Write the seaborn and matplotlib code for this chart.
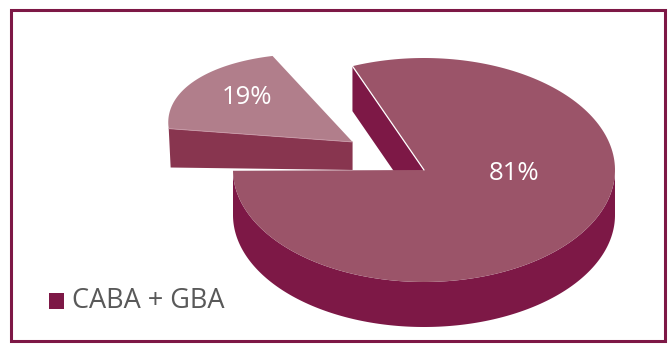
import numpy as np
import matplotlib
matplotlib.use("Agg")
import matplotlib.pyplot as plt
from matplotlib.patches import Polygon, Rectangle
import seaborn as sns

# ---- data ----
categories = ["CABA + GBA", "Resto"]
values = [81, 19]
legend_labels = ["CABA + GBA"]
top_colors = ["#9B5469", "#B17E8B"]
side_colors = ["#7D1846", "#88354F"]

sns.set_theme(style="white")
plt.rcParams['font.family'] = ['Open Sans', 'DejaVu Sans']
palette_top = sns.color_palette(top_colors)
palette_side = sns.color_palette(side_colors)

W, H = 669, 349
fig = plt.figure(figsize=(W / 100, H / 100), dpi=100)
ax = fig.add_axes([0, 0, 1, 1])
ax.set_xlim(0, W)
ax.set_ylim(H, 0)
ax.axis('off')

# frame
ax.add_patch(Rectangle((11, 10), 654, 331, fill=False, ec="#7D1846", lw=2.2))

# pie geometry (layout)
cx, cy, rx, ry, depth = 424, 170, 191, 112, 45
start = 112.0
explode = [0.0, 0.45]
M_small = np.array([[0.963, 0.107], [0.073, 0.778]])
M_small_bot = np.array([[0.953, 0.107], [0.016, 0.778]])

fracs = np.array(values, dtype=float) / sum(values)
angles = []
a = start
for f in fracs:
    angles.append((a - f * 360.0, a))
    a -= f * 360.0


def arc(t0, t1, n=200):
    t = np.radians(np.linspace(t0, t1, n))
    return np.column_stack([rx * np.cos(t), -ry * np.sin(t)])


# --- small (exploded) slice, drawn first (behind) ---
t0, t1 = angles[1]
mid = np.radians((t0 + t1) / 2)
V = np.array([cx + explode[1] * rx * np.cos(mid), cy - explode[1] * ry * np.sin(mid)])
edge_pt = np.array([rx * np.cos(np.radians(t1)), -ry * np.sin(np.radians(t1))])
L_top = V + M_small @ edge_pt
Vb = V + np.array([0, 28])
L_bot = Vb + M_small_bot @ edge_pt
ax.add_patch(Polygon([V, L_top, L_bot, Vb], closed=True, fc=palette_side[1], ec='none'))
pts = (M_small @ arc(t0, t1).T).T + V
ax.add_patch(Polygon(np.vstack([V, pts]), closed=True, fc=palette_top[1], ec='none'))
ax.plot([V[0], L_top[0]], [V[1], L_top[1]], color='#C99AA8', lw=0.6)

# --- big slice ---
t0, t1 = angles[0]
C = np.array([cx, cy])
# cut face at start angle
P = C + np.array([rx * np.cos(np.radians(t1)), -ry * np.sin(np.radians(t1))])
ax.add_patch(Polygon([C, P, P + [0, depth], C + [0, depth]], closed=True,
                     fc=palette_side[0], ec='none'))
# outer side (front half)
front = arc(max(t0, -180), 0) + C
side = np.vstack([front, (front + [0, depth])[::-1]])
ax.add_patch(Polygon(side, closed=True, fc=palette_side[0], ec='none'))
# top face
top = arc(t0, t1) + C
ax.add_patch(Polygon(np.vstack([C, top]), closed=True, fc=palette_top[0], ec='none'))
ax.plot([C[0], P[0]], [C[1], P[1]], color='white', lw=0.9)

# labels
label_pos = [(514, 173), (247, 98)]
for v, (x, y) in zip(values, label_pos):
    ax.text(x, y, f"{v}%", color='white', fontsize=18.5, ha='center', va='center')

# legend
ax.add_patch(Rectangle((49, 293), 15, 16, fc=palette_side[0], ec='none'))
ax.text(72, 300.5, legend_labels[0], color='#595959', fontsize=19.5, ha='left', va='center')

fig.savefig("out.png", dpi=100)
